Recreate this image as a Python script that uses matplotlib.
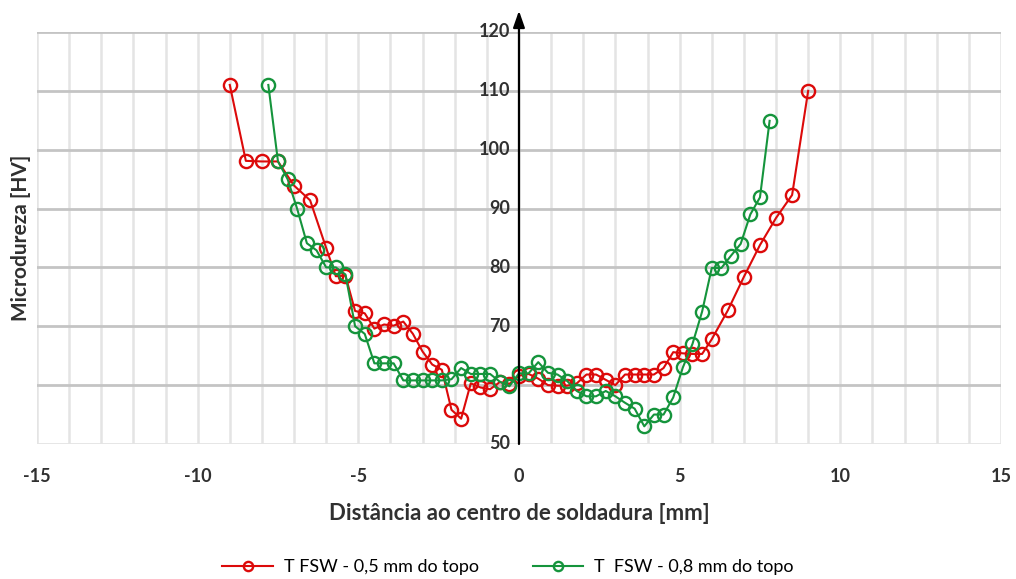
import numpy as np
import matplotlib
matplotlib.use("Agg")
import matplotlib.pyplot as plt

plt.rcParams['font.family'] = ['Lato', 'DejaVu Sans']

# T FSW - 0,5 mm do topo
x_05 = [-9.0, -8.5, -8.0, -7.5, -7.0, -6.5, -6.0, -5.7, -5.4, -5.1, -4.8, -4.5,
        -4.2, -3.9, -3.6, -3.3, -3.0, -2.7, -2.4, -2.1, -1.8, -1.5, -1.2, -0.9,
        -0.6, -0.3, 0.0, 0.3, 0.6, 0.9, 1.2, 1.5, 1.8, 2.1, 2.4, 2.7, 3.0, 3.3,
        3.6, 3.9, 4.2, 4.5, 4.8, 5.1, 5.4, 5.7, 6.0, 6.5, 7.0, 7.5, 8.0, 8.5, 9.0]
hv_05 = [111.0, 98.1, 98.0, 98.0, 93.9, 91.4, 83.3, 78.5, 78.6, 72.6, 72.2, 69.6,
         70.3, 70.1, 70.8, 68.7, 65.7, 63.5, 62.6, 55.8, 54.3, 60.3, 59.6, 59.3,
         60.5, 60.2, 61.6, 61.9, 61.1, 60.0, 59.9, 59.9, 60.3, 61.8, 61.8, 60.9,
         60.0, 61.8, 61.8, 61.8, 61.8, 62.9, 65.6, 65.4, 65.3, 65.3, 67.8, 72.7,
         78.4, 83.8, 88.4, 92.3, 110.0]

# T  FSW - 0,8 mm do topo
x_08 = [-7.8, -7.5, -7.2, -6.9, -6.6, -6.3, -6.0, -5.7, -5.4, -5.1, -4.8, -4.5,
        -4.2, -3.9, -3.6, -3.3, -3.0, -2.7, -2.4, -2.1, -1.8, -1.5, -1.2, -0.9,
        -0.6, -0.3, 0.0, 0.3, 0.6, 0.9, 1.2, 1.5, 1.8, 2.1, 2.4, 2.7, 3.0, 3.3,
        3.6, 3.9, 4.2, 4.5, 4.8, 5.1, 5.4, 5.7, 6.0, 6.3, 6.6, 6.9, 7.2, 7.5, 7.8]
hv_08 = [111.0, 98.0, 95.0, 89.9, 84.1, 82.9, 80.0, 80.0, 78.8, 70.0, 68.7, 63.7,
         63.7, 63.7, 60.8, 60.8, 60.8, 60.8, 60.8, 61.0, 62.9, 61.9, 61.9, 61.9,
         60.6, 59.8, 62.0, 62.0, 63.9, 62.1, 61.8, 60.7, 59.0, 58.1, 58.1, 59.0,
         58.1, 57.0, 56.0, 53.0, 55.0, 55.0, 57.9, 63.0, 67.0, 72.5, 79.9, 79.9,
         82.0, 84.0, 89.0, 91.9, 104.9]

y_ticks = [50, 60, 70, 80, 90, 100, 110, 120]
y_labels = ['50', '', '70', '80', '90', '100', '110', '120']
x_ticks = [-15, -10, -5, 0, 5, 10, 15]

fig = plt.figure(figsize=(10.16, 5.79), dpi=100)
ax = fig.add_axes([0.0364, 0.2332, 0.9488, 0.7116])

# grid: light vertical every 1 mm, darker horizontal every 10 HV
for xv in np.arange(-15, 16, 1):
    ax.axvline(xv, color='#e4e4e4', lw=1.8, zorder=0)
for yv in y_ticks:
    ax.axhline(yv, color='#c4c4c4' if yv > 50 else '#e4e4e4', lw=2.0, zorder=0)

red = '#dc0a0a'
green = '#15943c'
ax.plot(x_05, hv_05, '-o', color=red, lw=1.5, ms=9.5, mfc='none', mew=1.7,
        label='T FSW - 0,5 mm do topo', zorder=3)
ax.plot(x_08, hv_08, '-o', color=green, lw=1.5, ms=9.5, mfc='none', mew=1.7,
        label='T  FSW - 0,8 mm do topo', zorder=4)

ax.set_xlim(-15, 15)
ax.set_ylim(50, 120)
for s in ax.spines.values():
    s.set_visible(False)

# vertical axis through x = 0 with arrow
ax.annotate('', xy=(0, 123.6), xytext=(0, 50),
            arrowprops=dict(arrowstyle='-|>,head_length=1.0,head_width=0.35',
                            color='black', lw=1.6, shrinkA=0, shrinkB=0),
            annotation_clip=False, zorder=5)

ax.set_yticks([])
for yv, lab in zip(y_ticks, y_labels):
    ax.text(-0.28, yv, lab, ha='right', va='center', fontsize=13,
            fontweight='bold', color='#303030', zorder=5)

ax.set_xticks(x_ticks)
ax.set_xticklabels([str(v) for v in x_ticks], fontsize=13, fontweight='bold',
                   color='#303030')
ax.tick_params(axis='x', length=0, pad=17)

ax.set_xlabel('Distância ao centro de soldadura [mm]', fontsize=16,
              fontweight='bold', color='#303030', labelpad=13)
ax.set_ylabel('Microdureza [HV]', fontsize=15, fontweight='bold',
              color='#303030', labelpad=0)
ax.yaxis.set_label_coords(-0.006, 0.5)

fig.legend(loc='lower center', bbox_to_anchor=(0.5, -0.022), ncol=2,
           frameon=False, fontsize=13, handlelength=2.8, columnspacing=3.0,
           markerscale=0.7, handletextpad=0.6)

fig.savefig('out.png', dpi=100)
